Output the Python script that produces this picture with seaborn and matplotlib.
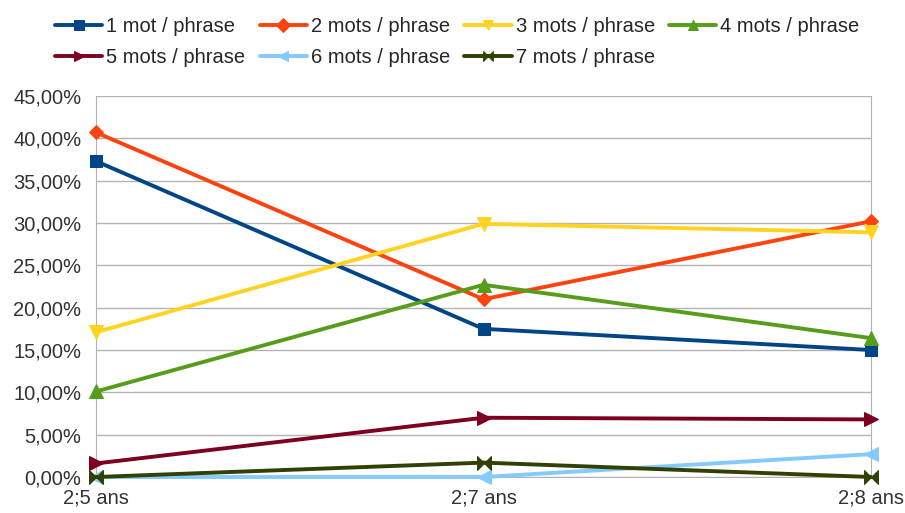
import pandas as pd
import seaborn as sns
from matplotlib import pyplot as plt
from matplotlib.ticker import FuncFormatter, MultipleLocator
from matplotlib.path import Path

ages = ["2;5 ans", "2;7 ans", "2;8 ans"]
series_names = ["1 mot / phrase", "2 mots / phrase", "3 mots / phrase", "4 mots / phrase",
                "5 mots / phrase", "6 mots / phrase", "7 mots / phrase"]
mot1 = [37.3, 17.5, 15.0]
mot2 = [40.7, 21.0, 30.2]
mot3 = [17.1, 29.9, 28.9]
mot4 = [10.1, 22.7, 16.4]
mot5 = [1.6, 7.0, 6.8]
mot6 = [0.0, 0.0, 2.7]
mot7 = [0.0, 1.7, 0.0]
all_values = [mot1, mot2, mot3, mot4, mot5, mot6, mot7]

colors = ["#004586", "#ff420e", "#ffd320", "#579d1c", "#7e0021", "#83caff", "#314004"]
bowtie = Path([(-1, -1), (1, 1), (1, -1), (-1, 1), (-1, -1)],
              [Path.MOVETO, Path.LINETO, Path.LINETO, Path.LINETO, Path.CLOSEPOLY])
markers = ["s", "D", "v", "^", ">", "<", bowtie]
sizes = [9, 7, 10, 10, 10, 10, 10]

rows = []
for name, vals in zip(series_names, all_values):
    for age, v in zip(ages, vals):
        rows.append({"age": age, "serie": name, "valeur": v})
df = pd.DataFrame(rows)

sns.set_style("white")
plt.rcParams['font.family'] = ['Liberation Sans', 'DejaVu Sans']

fig = plt.figure(figsize=(9.05, 5.13), dpi=100)
ax = fig.add_axes([96 / 905, 1 - 477 / 513, (871 - 96) / 905, (477 - 96) / 513])

for i, name in enumerate(series_names):
    sub = df[df["serie"] == name]
    sns.lineplot(data=sub, x="age", y="valeur", ax=ax, color=colors[i], linewidth=2.8,
                 marker=markers[i], markersize=sizes[i], markeredgecolor=colors[i],
                 label=name, sort=False, zorder=3, clip_on=False)

ax.set_xlim(0, 2)
ax.set_ylim(0, 45)
ax.yaxis.set_major_locator(MultipleLocator(5))
ax.yaxis.set_major_formatter(FuncFormatter(lambda v, p: f"{v:.2f}%".replace(".", ",")))
ax.set_xlabel("")
ax.set_ylabel("")
ax.grid(axis="y", color="#b3b3b3", linewidth=1)
for s in ax.spines.values():
    s.set_color("#b3b3b3")
ax.spines["top"].set_visible(False)
ax.tick_params(axis="y", length=6, color="#b3b3b3", labelsize=14.5, labelcolor="#333333", pad=4.5)
ax.tick_params(axis="x", length=5, color="#b3b3b3", labelsize=14.5, labelcolor="#333333", pad=3.5)
ax.set_axisbelow(True)

handles, labels = ax.get_legend_handles_labels()
ax.get_legend().remove()
order = [0, 4, 1, 5, 2, 6, 3]
leg = fig.legend([handles[i] for i in order], [labels[i] for i in order],
                 loc="upper left", bbox_to_anchor=(55 / 905, 1 - 17 / 513), ncol=4,
                 frameon=False, fontsize=14.5, handlelength=2.35, handletextpad=0.2,
                 columnspacing=0.7, labelspacing=0.6, borderaxespad=0, borderpad=0)
for h in leg.legend_handles:
    h.set_markersize(7)

fig.savefig("out.png", dpi=100)
